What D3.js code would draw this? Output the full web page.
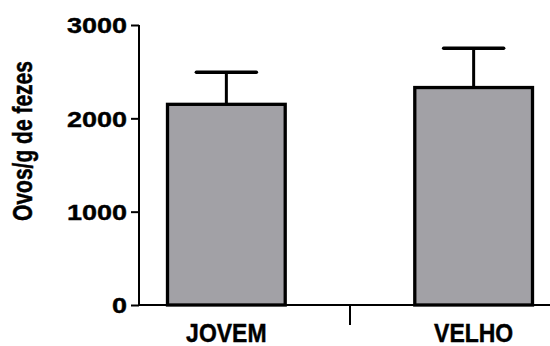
<!DOCTYPE html>
<html>
<head>
<meta charset="utf-8">
<script src="https://cdn.jsdelivr.net/npm/d3@7"></script>
<style>
  html, body { margin: 0; padding: 0; background: #fff; }
  svg { display: block; }
  text { font-family: "Liberation Sans", Arial, sans-serif; font-weight: bold; fill: #000; }
</style>
</head>
<body>
<svg id="chart" width="550" height="346"></svg>
<script>
const categories = ["JOVEM", "VELHO"];
const means = [2150, 2330];
const sems = [345, 420];
const yTicks = [0, 1000, 2000, 3000];
const yLabel = "Ovos/g de fezes";

const svg = d3.select("#chart");
const y = d3.scaleLinear().domain([0, 3000]).range([305, 25]);
const x = d3.scaleBand().domain(categories).range([167.5, 532.5]).paddingInner(0.524).paddingOuter(0);
const bw = x.bandwidth();
const axisX = 139;

// bars
svg.selectAll("rect.bar").data(categories).enter().append("rect")
  .attr("x", d => x(d))
  .attr("y", (d, i) => y(means[i]))
  .attr("width", bw)
  .attr("height", (d, i) => y(0) - y(means[i]))
  .attr("fill", "#a2a1a6")
  .attr("stroke", "#000")
  .attr("stroke-width", 3.3);

// error bars
const eb = svg.selectAll("g.err").data(categories).enter().append("g");
eb.append("line")
  .attr("x1", d => x(d) + bw / 2).attr("x2", d => x(d) + bw / 2)
  .attr("y1", (d, i) => y(means[i])).attr("y2", (d, i) => y(means[i] + sems[i]))
  .attr("stroke", "#000").attr("stroke-width", 3);
eb.append("line")
  .attr("x1", d => x(d) + bw / 2 - 30).attr("x2", d => x(d) + bw / 2 + 30)
  .attr("y1", (d, i) => y(means[i] + sems[i])).attr("y2", (d, i) => y(means[i] + sems[i]))
  .attr("stroke", "#000").attr("stroke-width", 3.5).attr("stroke-linecap", "round");

// y axis
const yAxis = d3.axisLeft(y).tickValues(yTicks).tickSize(8).tickPadding(4).tickFormat(d3.format("d"));
const gy = svg.append("g").attr("transform", `translate(${axisX},0)`).call(yAxis);
gy.select(".domain").attr("stroke", "#000").attr("stroke-width", 2).attr("d", `M0,${y(3000)}V${y(0)}`);
gy.selectAll(".tick line").attr("stroke", "#000").attr("stroke-width", 2);
gy.selectAll(".tick text")
  .attr("font-size", 22.5).attr("font-family", "Liberation Sans, Arial, sans-serif").attr("font-weight", "bold")
  .attr("fill", "#000").attr("stroke", "#000").attr("stroke-width", 0.4)
  .attr("x", null).attr("dy", null)
  .attr("dominant-baseline", "central")
  .attr("transform", "translate(-12,0) scale(1.2,1)");

// x axis
svg.append("line").attr("x1", axisX).attr("x2", 550).attr("y1", y(0)).attr("y2", y(0))
  .attr("stroke", "#000").attr("stroke-width", 2);
const mid = (x(categories[0]) + bw + x(categories[1])) / 2;
svg.append("line").attr("x1", mid).attr("x2", mid).attr("y1", y(0)).attr("y2", y(0) + 20)
  .attr("stroke", "#000").attr("stroke-width", 2);

// category labels
svg.selectAll("text.cat").data(categories).enter().append("text")
  .attr("class", "cat")
  .attr("transform", d => `translate(${x(d) + bw / 2},342) scale(1,1.12)`)
  .attr("text-anchor", "middle")
  .attr("font-size", 23)
  .attr("stroke", "#000").attr("stroke-width", 0.4)
  .text(d => d);

// y label
svg.append("text")
  .attr("transform", "translate(32,141) rotate(-90) scale(1,1.3)")
  .attr("text-anchor", "middle")
  .attr("font-size", 21)
  .attr("stroke", "#000").attr("stroke-width", 0.4)
  .text(yLabel);
</script>
</body>
</html>
